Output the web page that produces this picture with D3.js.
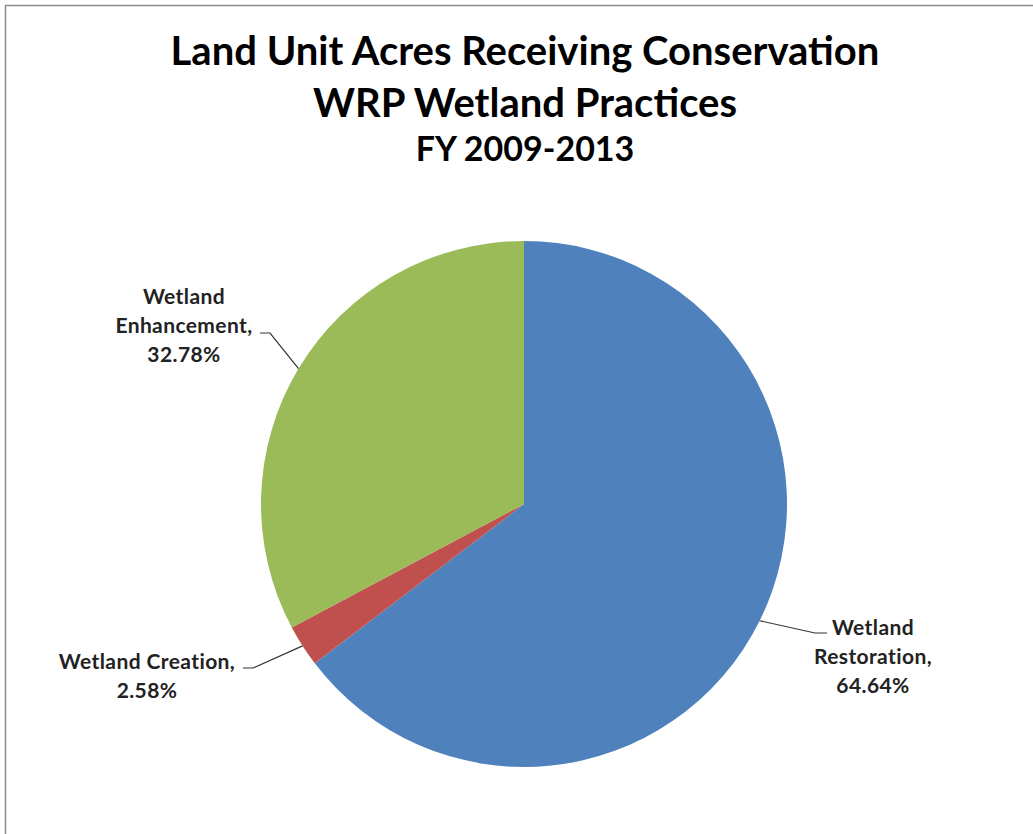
<!DOCTYPE html>
<html>
<head>
    <meta charset="utf-8">
    <title>Land Unit Acres Receiving Conservation</title>
    <script src="https://d3js.org/d3.v7.min.js"></script>
    <style>
        html, body { margin: 0; padding: 0; background: #fff; }
        svg { display: block; }
    </style>
</head>
<body>
    <script>
        // chart data
        const categories = ["Wetland Restoration", "Wetland Creation", "Wetland Enhancement"];
        const shares = [64.64, 2.58, 32.78];
        const colors = ["#4F81BD", "#C0504D", "#9BBB59"];
        const titleLines = ["Land Unit Acres Receiving Conservation", "WRP Wetland Practices", "FY 2009-2013"];
        // how each data label wraps
        const labelLines = [
            ["Wetland", "Restoration,", "64.64%"],
            ["Wetland Creation,", "2.58%"],
            ["Wetland", "Enhancement,", "32.78%"]
        ];

        const width = 1033;
        const height = 834;
        const cx = 524, cy = 504, radius = 263;
        const font = "Lato, 'Open Sans', sans-serif";

        // label placement (text block centre, elbow of leader line)
        const labelLayout = [
            { x: 873, y: 628, elbow: [815, 633], end: [827, 633] },
            { x: 147, y: 662, elbow: [253, 668], end: [243, 668] },
            { x: 184, y: 297, elbow: [270, 333], end: [260, 333] }
        ];

        const svg = d3.select("body")
            .append("svg")
            .attr("width", width)
            .attr("height", height);

        // chart frame
        svg.append("rect")
            .attr("x", 5.5)
            .attr("y", 5.5)
            .attr("width", width + 20)
            .attr("height", height + 20)
            .attr("fill", "#fff")
            .attr("stroke", "#8c8c8c")
            .attr("stroke-width", 1.5);

        // title
        const titleSizes = [40, 40, 34];
        const titleBase = [65, 117, 161];
        svg.append("g")
            .selectAll("text")
            .data(titleLines)
            .enter()
            .append("text")
            .attr("x", cx + 1)
            .attr("y", (d, i) => titleBase[i])
            .attr("text-anchor", "middle")
            .attr("font-family", font)
            .attr("font-weight", "bold")
            .attr("font-size", (d, i) => titleSizes[i])
            .attr("fill", "#000")
            .text(d => d);

        const pie = d3.pie().sort(null).value(d => d);
        const arcs = pie(shares);
        const arc = d3.arc().innerRadius(0).outerRadius(radius);

        const g = svg.append("g")
            .attr("transform", `translate(${cx},${cy})`);

        g.selectAll("path.slice")
            .data(arcs)
            .enter()
            .append("path")
            .attr("class", "slice")
            .attr("d", arc)
            .attr("fill", (d, i) => colors[i]);

        // leader lines from the middle of each slice edge
        const edgePoint = d => {
            const a = (d.startAngle + d.endAngle) / 2;
            return [cx + radius * Math.sin(a), cy - radius * Math.cos(a)];
        };

        svg.append("g")
            .selectAll("polyline")
            .data(arcs)
            .enter()
            .append("polyline")
            .attr("points", (d, i) => [edgePoint(d), labelLayout[i].elbow, labelLayout[i].end].map(p => p.join(",")).join(" "))
            .attr("fill", "none")
            .attr("stroke", "#333")
            .attr("stroke-width", 1.2);

        // data labels
        const lineGap = 29;
        const labels = svg.append("g")
            .selectAll("text")
            .data(arcs)
            .enter()
            .append("text")
            .attr("text-anchor", "middle")
            .attr("font-family", font)
            .attr("font-weight", "bold")
            .attr("font-size", 21)
            .attr("letter-spacing", 0.4)
            .attr("fill", "#222");

        labels.each(function(d, i) {
            const t = d3.select(this);
            labelLines[i].forEach((line, j) => {
                t.append("tspan")
                    .attr("x", labelLayout[i].x)
                    .attr("y", labelLayout[i].y + j * lineGap)
                    .attr("dy", "0.35em")
                    .text(line);
            });
        });
    </script>
</body>
</html>
